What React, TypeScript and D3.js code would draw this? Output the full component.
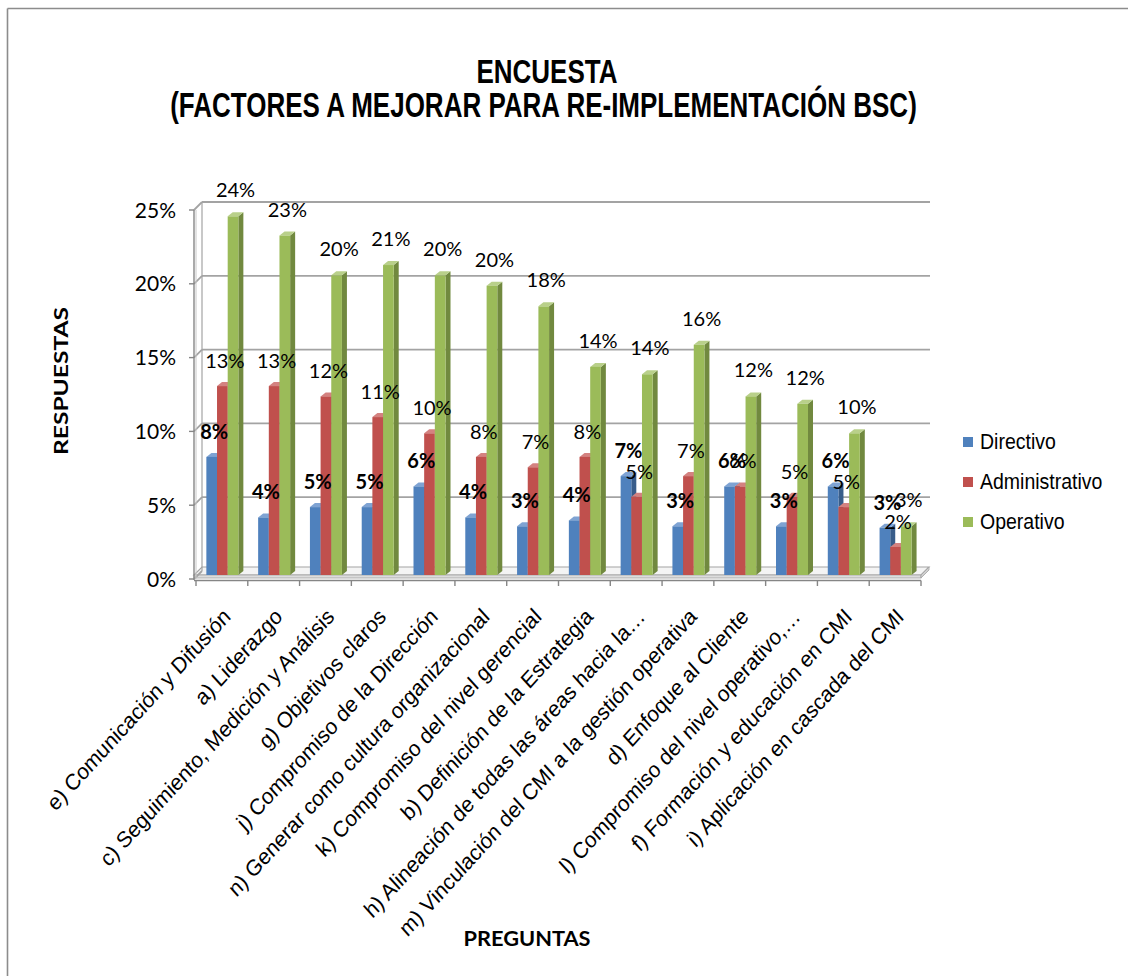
import React from 'react';
import * as d3 from 'd3';

const categories = [
  'e) Comunicación y Difusión',
  'a) Liderazgo',
  'c) Seguimiento, Medición y Análisis',
  'g) Objetivos claros',
  'j) Compromiso de la Dirección',
  'n) Generar como cultura organizacional',
  'k) Compromiso del nivel gerencial',
  'b) Definición de la Estrategia',
  'h) Alineación de todas las áreas hacia la…',
  'm) Vinculación del CMI a la gestión operativa',
  'd) Enfoque al Cliente',
  'l) Compromiso del nivel operativo,…',
  'f) Formación y educación en CMI',
  'i) Aplicación en cascada del CMI',
];

const seriesNames = ['Directivo', 'Administrativo', 'Operativo'];
const directivo = [8.0, 3.9, 4.6, 4.6, 6.0, 3.9, 3.3, 3.7, 6.7, 3.3, 6.0, 3.3, 6.0, 3.2];
const administrativo = [12.8, 12.8, 12.1, 10.7, 9.6, 8.0, 7.3, 8.0, 5.3, 6.7, 6.0, 5.3, 4.6, 1.9];
const operativo = [24.3, 23.0, 20.3, 21.0, 20.3, 19.6, 18.2, 14.1, 13.6, 15.6, 12.1, 11.6, 9.6, 3.3];
const yTicks = [0, 5, 10, 15, 20, 25];
const yTickLabels = ['0%', '5%', '10%', '15%', '20%', '25%'];

const front = ['#4F81BD', '#C0504D', '#9BBB59'];
const side = ['#385D8A', '#8C3836', '#71893F'];
const topc = ['#7FA3D3', '#D48280', '#B9D08A'];

export default function App() {
  const values = [directivo, administrativo, operativo];
  const y = d3.scaleLinear().domain([0, 25]).range([579, 210]);
  const x = d3.scaleBand<string>().domain(categories).range([196, 921]);
  const sub = d3
    .scaleBand<string>()
    .domain(seriesNames)
    .range([x.bandwidth() * 0.2, x.bandwidth() * 0.2 + 32]);
  const wx = 8;
  const wy = -8;
  const bd = 5;
  const bdy = -4;
  const lift = 4;
  const x0 = 194;
  const x1 = 921;
  const gridColor = '#a3a3a3';

  return (
    <svg
      width={1128}
      height={976}
      style={{ position: 'absolute', left: 0, top: 0, background: '#fff' }}
    >
      <rect x={0} y={0} width={1128} height={976} fill="#fff" />
      <line x1={7.5} y1={8.5} x2={1128} y2={8.5} stroke="#8c8c8c" strokeWidth={1.6} />
      <line x1={7.5} y1={8.5} x2={7.5} y2={976} stroke="#8c8c8c" strokeWidth={1.6} />

      {/* title */}
      <text
        transform="translate(547,83) scale(1,1.3)"
        textAnchor="middle"
        fontFamily="'Liberation Sans', Arial, sans-serif"
        fontWeight="bold"
        fontSize={26}
        fill="#000"
      >
        ENCUESTA
      </text>
      <text
        transform="translate(543.5,117) scale(1,1.32)"
        textAnchor="middle"
        fontFamily="'Liberation Sans', Arial, sans-serif"
        fontWeight="bold"
        fontSize={26}
        fill="#000"
      >
        (FACTORES A MEJORAR PARA RE-IMPLEMENTACIÓN BSC)
      </text>

      {/* floor */}
      <polygon
        points={`${x0},575 ${x1},575 ${x1 + wx},${575 + wy} ${x0 + wx},${575 + wy}`}
        fill="#f4f4f4"
        stroke={gridColor}
        strokeWidth={1.2}
      />
      <rect x={x0} y={575} width={x1 - x0} height={3} fill="#dcdcdc" stroke={gridColor} strokeWidth={0.8} />
      <polygon
        points={`${x1},575 ${x1 + wx},${575 + wy} ${x1 + wx},${578 + wy} ${x1},578`}
        fill="#cfcfcf"
        stroke={gridColor}
        strokeWidth={0.8}
      />

      {/* walls: gridlines */}
      {yTicks.map((t) => (
        <g key={'g' + t}>
          <line x1={x0} y1={y(t)} x2={x0 + wx} y2={y(t) + wy} stroke={gridColor} strokeWidth={1.8} />
          {t > 0 && (
            <line x1={x0 + wx} y1={y(t) + wy} x2={x1 + wx + 1} y2={y(t) + wy} stroke={gridColor} strokeWidth={1.8} />
          )}
        </g>
      ))}
      <line x1={x0 + wx} y1={y(25) + wy} x2={x0 + wx} y2={y(0) + wy} stroke={gridColor} strokeWidth={1.2} />
      <line x1={x0 + 2} y1={y(25)} x2={x0 + 2} y2={y(0)} stroke="#c8c8c8" strokeWidth={1} />

      {/* y axis */}
      <line x1={x0} y1={y(25)} x2={x0} y2={y(0) + 1} stroke="#868686" strokeWidth={1.4} />
      {yTicks.map((t, i) => (
        <g key={'yt' + t}>
          <line x1={x0 - 5} y1={y(t)} x2={x0} y2={y(t)} stroke="#868686" strokeWidth={1.4} />
          <text
            x={176}
            y={y(t) + 7.5}
            textAnchor="end"
            fontFamily="Lato, 'Open Sans', sans-serif"
            fontSize={21}
            fill="#000"
          >
            {yTickLabels[i]}
          </text>
        </g>
      ))}

      {/* x axis */}
      <line x1={x0} y1={580.5} x2={x1} y2={580.5} stroke="#868686" strokeWidth={1.4} />
      {categories.map((c, i) => (
        <line
          key={'xt' + i}
          x1={x(c)!}
          y1={580.5}
          x2={x(c)!}
          y2={586}
          stroke="#868686"
          strokeWidth={1.4}
        />
      ))}
      <line x1={x1} y1={580.5} x2={x1} y2={586} stroke="#868686" strokeWidth={1.4} />

      {/* bars */}
      {categories.map((c, i) => (
        <g key={'bars' + i}>
          {seriesNames.map((s, j) => {
            const v = values[j][i];
            const bx = x(c)! + sub(s)!;
            const bw = sub.bandwidth();
            const base = y(0) - lift;
            const top = y(v) - lift;
            return (
              <g key={s}>
                <polygon
                  points={`${bx + bw},${top} ${bx + bw + bd},${top + bdy} ${bx + bw + bd},${base + bdy} ${bx + bw},${base}`}
                  fill={side[j]}
                />
                <polygon
                  points={`${bx},${top} ${bx + bd},${top + bdy} ${bx + bw + bd},${top + bdy} ${bx + bw},${top}`}
                  fill={topc[j]}
                />
                <rect x={bx} y={top} width={bw} height={base - top} fill={front[j]} />
              </g>
            );
          })}
        </g>
      ))}

      {/* data labels */}
      {categories.map((c, i) => (
        <g key={'lbl' + i}>
          {seriesNames.map((s, j) => {
            const v = values[j][i];
            const cx = x(c)! + sub(s)! + sub.bandwidth() / 2 + bd / 2;
            const top = y(v) - lift;
            return (
              <text
                key={s}
                x={cx}
                y={top - (j === 2 ? 19 : 18)}
                textAnchor="middle"
                fontFamily="Lato, 'Open Sans', sans-serif"
                fontSize={20}
                fontWeight={j === 0 ? 'bold' : 'normal'}
                fill="#000"
              >
                {Math.round(v) + '%'}
              </text>
            );
          })}
        </g>
      ))}

      {/* category labels */}
      {categories.map((c, i) => (
        <text
          key={'cl' + i}
          transform={`translate(${x(c)! + x.bandwidth() / 2 + 10},618) scale(1,1.1) rotate(-45)`}
          textAnchor="end"
          fontFamily="'Liberation Sans', Arial, sans-serif"
          fontSize={20.5}
          fill="#000"
        >
          {c}
        </text>
      ))}

      {/* axis titles */}
      <text
        transform="translate(68,381) rotate(-90)"
        textAnchor="middle"
        fontFamily="Lato, 'Open Sans', sans-serif"
        fontWeight="bold"
        fontSize={19}
        textLength={148}
        lengthAdjust="spacingAndGlyphs"
        fill="#000"
      >
        RESPUESTAS
      </text>
      <text
        x={527}
        y={946}
        textAnchor="middle"
        fontFamily="Lato, 'Open Sans', sans-serif"
        fontWeight="bold"
        fontSize={21}
        textLength={127}
        lengthAdjust="spacingAndGlyphs"
        fill="#000"
      >
        PREGUNTAS
      </text>

      {/* legend */}
      {seriesNames.map((s, j) => (
        <g key={'lg' + s}>
          <rect x={963} y={437 + j * 40} width={10} height={10} fill={front[j]} />
          <text
            transform={`translate(980,${449 + j * 40}) scale(1,1.13)`}
            fontFamily="'Liberation Sans', Arial, sans-serif"
            fontSize={19.5}
            fill="#000"
          >
            {s}
          </text>
        </g>
      ))}
    </svg>
  );
}
